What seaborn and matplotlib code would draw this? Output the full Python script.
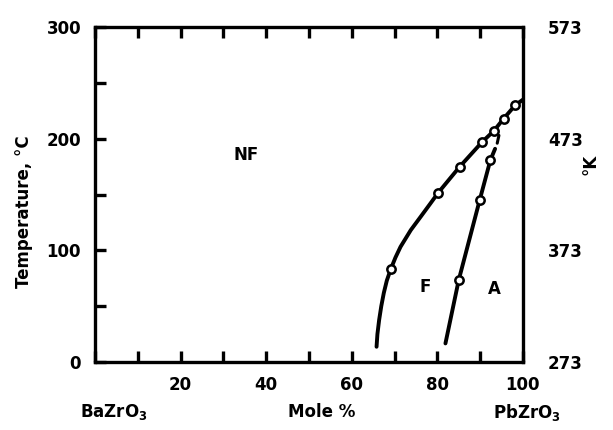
import matplotlib
matplotlib.use("Agg")
import matplotlib.pyplot as plt
import matplotlib.transforms as mtransforms
import seaborn as sns
import pandas as pd

# boundary NF/F (line vertices)
nf_x = [65.8, 66.0, 66.4, 66.9, 67.5, 68.2, 69.1, 70.2, 71.4, 73.8, 76.1, 78.4, 80.2, 85.2, 90.5, 93.2, 95.5, 98.2, 100.0]
nf_y = [13.7, 25.0, 37.6, 50.0, 62.0, 73.0, 83.0, 93.5, 103.2, 118.2, 130.1, 142.1, 151.6, 174.8, 197.2, 207.0, 218.0, 230.0, 235.0]
# measured points on NF/F
nf_pts_x = [69.1, 80.2, 85.2, 90.5, 93.2, 95.5, 98.2]
nf_pts_y = [83.0, 151.6, 174.8, 197.2, 207.0, 218.0, 230.0]

# boundary F/A
fa_x = [81.9, 85.0, 89.9, 92.4, 93.5]
fa_y = [16.7, 73.4, 145.0, 180.8, 191.0]
fa_tip_x = [94.0, 94.4]
fa_tip_y = [196.0, 203.0]
fa_pts_x = [85.0, 90.0, 92.4]
fa_pts_y = [73.4, 145.0, 180.8]

x_ticks = list(range(0, 101, 10))
x_labels = ["", "", "20", "", "40", "", "60", "", "80", "", "100"]
y_ticks = list(range(0, 301, 50))
y_labels = ["0", "", "100", "", "200", "", "300"]
k_ticks = [0, 100, 200, 300]
k_labels = ["273", "373", "473", "573"]

sns.set_theme(style="ticks")
plt.rcParams['font.family'] = ['DejaVu Sans']
plt.rcParams['font.weight'] = 'bold'
plt.rcParams['text.color'] = 'black'
plt.rcParams['mathtext.default'] = 'regular'

fig, ax = plt.subplots(figsize=(6.13, 4.30), dpi=100)
fig.subplots_adjust(left=0.155, right=0.853, top=0.937, bottom=0.158)

nf = pd.DataFrame({"x": nf_x, "y": nf_y})
fa = pd.DataFrame({"x": fa_x, "y": fa_y})
tip = pd.DataFrame({"x": fa_tip_x, "y": fa_tip_y})
sns.lineplot(data=nf, x="x", y="y", sort=False, estimator=None, color="black", lw=2.8, ax=ax)
sns.lineplot(data=fa, x="x", y="y", sort=False, estimator=None, color="black", lw=2.8, ax=ax)
sns.lineplot(data=tip, x="x", y="y", sort=False, estimator=None, color="black", lw=2.2, ax=ax)

sns.scatterplot(x=nf_pts_x, y=nf_pts_y, s=36, facecolor="white", edgecolor="black",
                linewidth=1.8, zorder=5, ax=ax)
sns.scatterplot(x=fa_pts_x, y=fa_pts_y, s=36, facecolor="white", edgecolor="black",
                linewidth=1.8, zorder=5, ax=ax)

ax.set_xlim(0, 100)
ax.set_ylim(0, 300)
ax.set_xticks(x_ticks)
ax.set_xticklabels(x_labels)
ax.set_yticks(y_ticks)
ax.set_yticklabels(y_labels)
ax.tick_params(direction="in", length=8, width=2.4, top=True, right=True,
               labelsize=12, colors="black")
ax.tick_params(axis="y", pad=10)
ax.tick_params(axis="x", pad=10)
for s in ax.spines.values():
    s.set_linewidth(2.4)
    s.set_color("black")
ax.set_xlabel("")
ax.set_ylabel("")

# Kelvin scale on the right
ax2 = ax.twinx()
ax2.set_ylim(0, 300)
ax2.set_yticks(k_ticks)
ax2.set_yticklabels(k_labels)
ax2.tick_params(length=0, pad=18, labelsize=12, colors="black")
for s in ax2.spines.values():
    s.set_visible(False)

# region labels
ax.text(35.3, 185, "NF", fontsize=12, fontweight="bold", ha="center", va="center")
ax.text(77.2, 67, "F", fontsize=12, fontweight="bold", ha="center", va="center")
ax.text(93.3, 65, "A", fontsize=12, fontweight="bold", ha="center", va="center")

# axis titles
trans = mtransforms.blended_transform_factory(ax.transData, ax.transAxes)
ax.text(4.4, -0.15, "BaZrO$_3$", transform=trans, fontsize=12, ha="center", va="center")
ax.text(53, -0.15, "Mole %", transform=trans, fontsize=12, ha="center", va="center")
ax.text(101, -0.15, "PbZrO$_3$", transform=trans, fontsize=12, ha="center", va="center")
ax.text(-0.166, 0.45, "Temperature, °C", transform=ax.transAxes, fontsize=12,
        rotation=90, ha="center", va="center")
ax.text(1.157, 0.59, "°K", transform=ax.transAxes, fontsize=12,
        rotation=90, ha="center", va="center")

plt.savefig("out.png", dpi=100)
